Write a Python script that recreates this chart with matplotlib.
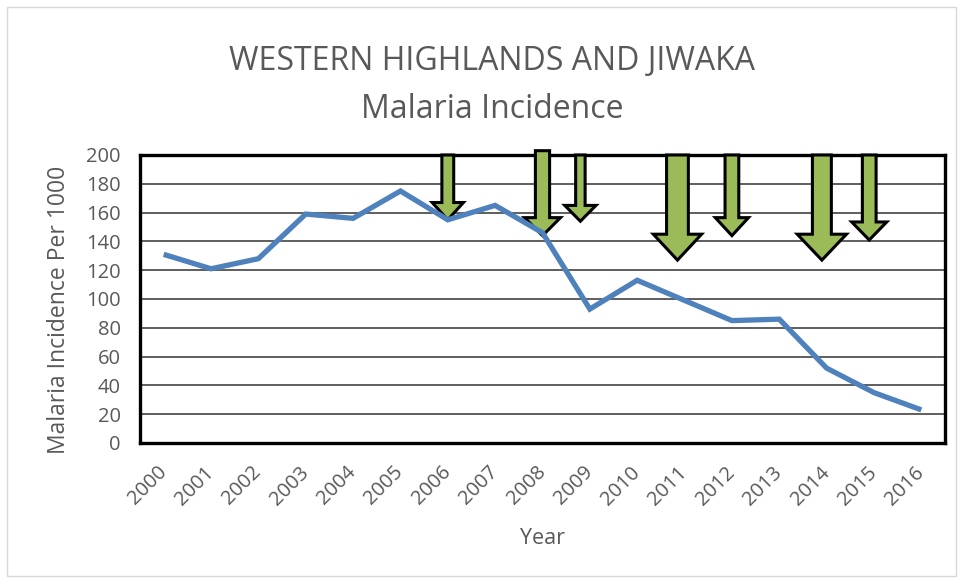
import matplotlib.pyplot as plt
from matplotlib.patches import FancyArrow, Rectangle
from matplotlib.transforms import ScaledTranslation

# data
years = [2000, 2001, 2002, 2003, 2004, 2005, 2006, 2007, 2008,
         2009, 2010, 2011, 2012, 2013, 2014, 2015, 2016]
incidence = [131, 121, 128, 159, 156, 175, 155, 165, 146,
             93, 113, 99, 85, 86, 52, 35, 23]

# intervention arrows: position (year), tip value, top value
arrow_year = [2006.0, 2008.0, 2008.8, 2010.85, 2012.0, 2013.9, 2014.9]
arrow_tip = [155, 144, 154, 127, 144, 127, 141]
arrow_top = [200, 203, 200, 200, 200, 200, 200]
arrow_width = [0.25, 0.30, 0.20, 0.46, 0.29, 0.40, 0.29]
arrow_head_w = [0.66, 0.76, 0.66, 1.02, 0.70, 1.04, 0.74]
arrow_head_l = [12, 12.5, 11, 18, 12.5, 18, 12.5]

GREY = '#595959'
plt.rcParams['font.family'] = ['Open Sans', 'DejaVu Sans']


def main():
    fig = plt.figure(figsize=(9.61, 5.80), dpi=100)
    ax = fig.add_axes([140 / 961, 137 / 580, 805 / 961, 288 / 580])

    x = [y - years[0] for y in years]
    ax.plot(x, incidence, color='#4F81BD', lw=3.8, zorder=4,
            solid_joinstyle='miter', solid_capstyle='butt')

    for yr, tip, top, w, hw, hl in zip(arrow_year, arrow_tip, arrow_top,
                                       arrow_width, arrow_head_w, arrow_head_l):
        ar = FancyArrow(yr - years[0], top, 0, tip - top, width=w,
                        head_width=hw, head_length=hl,
                        length_includes_head=True,
                        facecolor='#9BBB59', edgecolor='black', lw=2.2,
                        zorder=3, clip_on=False)
        ax.add_patch(ar)

    ax.set_xlim(-0.5, len(years) - 0.5)
    ax.set_ylim(0, 200)
    ax.set_yticks(range(0, 201, 20))
    ax.set_xticks(x)
    ax.set_xticklabels([str(y) for y in years], rotation=45,
                       ha='right', va='center', rotation_mode='anchor')
    shift = ScaledTranslation(4 / 100, 0, fig.dpi_scale_trans)
    for lbl in ax.get_xticklabels():
        lbl.set_transform(lbl.get_transform() + shift)
    ax.grid(axis='y', color='#333333', lw=1.1, zorder=1)
    ax.set_axisbelow(True)
    ax.tick_params(length=0, colors=GREY, labelsize=14.5)
    ax.tick_params(axis='x', pad=19)
    ax.tick_params(axis='y', pad=14)
    for s in ax.spines.values():
        s.set_linewidth(2.4)
        s.set_color('black')

    ax.set_ylabel('Malaria Incidence Per 1000', color=GREY, fontsize=16.5,
                  va='center')
    ax.yaxis.set_label_coords(-0.1006, 0.462)
    ax.set_xlabel('Year', color=GREY, fontsize=15.5, va='center')
    ax.xaxis.set_label_coords(0.5, -0.33)

    fig.text(492 / 961, 1 - 70 / 580, 'WESTERN HIGHLANDS AND JIWAKA',
             ha='center', va='baseline', color=GREY, fontsize=23)
    fig.text(492 / 961, 1 - 118.5 / 580, 'Malaria Incidence',
             ha='center', va='baseline', color=GREY, fontsize=23)

    fig.patches.append(Rectangle((7 / 961, 4 / 580), 949 / 961, 569 / 580,
                                 transform=fig.transFigure, fill=False,
                                 edgecolor='#d9d9d9', lw=1))

    fig.savefig('out.png', dpi=100)


if __name__ == '__main__':
    main()
